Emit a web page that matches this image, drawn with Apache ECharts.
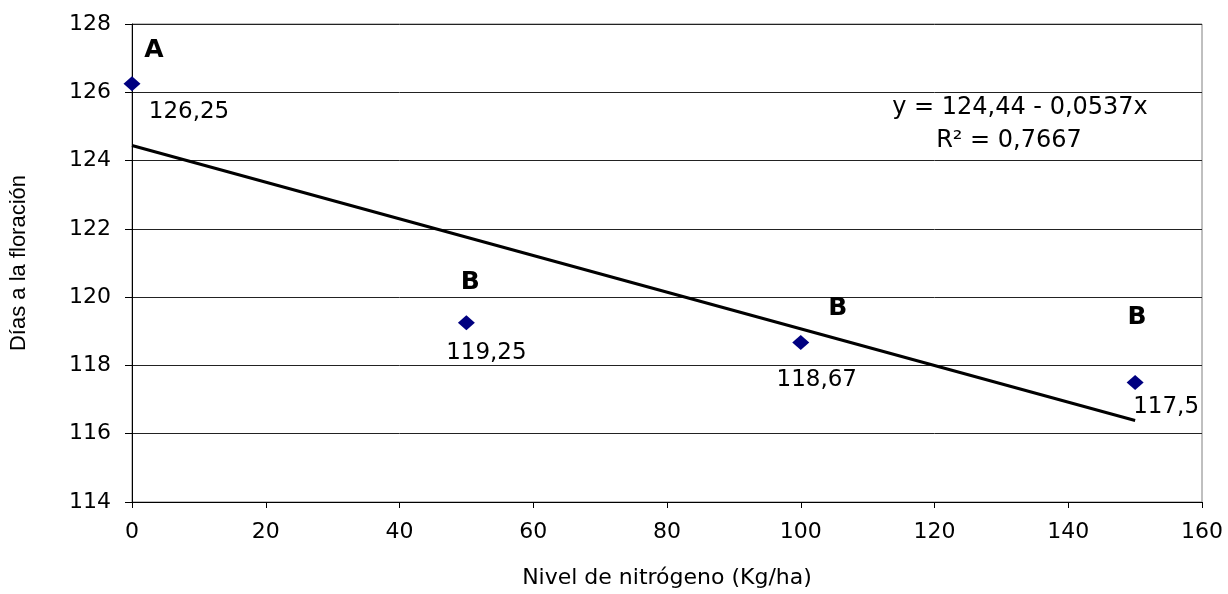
<!DOCTYPE html>
<html><head><meta charset="utf-8">
<script src="https://cdn.jsdelivr.net/npm/echarts@6/dist/echarts.min.js"></script>
<style>html,body{margin:0;padding:0;background:#fff;overflow:hidden}#c{width:1228px;height:594px}</style>
</head><body><div id="c"></div>
<script>
const nitrogen = [0, 50, 100, 150];
const days = [126.25, 119.25, 118.67, 117.5];
const valueLabels = ['126,25', '119,25', '118,67', '117,5'];
const letters = ['A', 'B', 'B', 'B'];
const intercept = 124.44;
const slope = -0.0537;
const equationText = 'y = 124,44 - 0,0537x';
const r2Text = 'R\u00b2 = 0,7667';
const yTicks = {min: 114, max: 128, interval: 2};
const xTicks = {min: 0, max: 160, interval: 20};

const valueOffsets = [[57, 28], [20, 30], [16, 37], [31, 25]];
const letterOffsets = [[22, -33], [4, -40], [37, -34], [2, -65]];
const fam = '"DejaVu Sans", sans-serif';
const fam2 = '"Liberation Sans", Arial, sans-serif';

const trend = [[nitrogen[0], intercept + slope * nitrogen[0]], [nitrogen[nitrogen.length - 1], intercept + slope * nitrogen[nitrogen.length - 1]]];

const chart = echarts.init(document.getElementById('c'), null, {renderer: 'canvas'});
chart.setOption({
  animation: false,
  grid: {left: 131, right: 26, top: 24, bottom: 86, show: true, borderColor: '#808080', borderWidth: 1, containLabel: false},
  xAxis: {
    type: 'value', min: xTicks.min, max: xTicks.max, interval: xTicks.interval,
    name: 'Nivel de nitrógeno (Kg/ha)', nameLocation: 'middle', nameGap: 65,
    nameTextStyle: {fontFamily: fam, fontSize: 22, color: '#000'},
    axisLine: {lineStyle: {color: '#000', width: 1}},
    axisTick: {show: true, length: 6, lineStyle: {color: '#000'}},
    axisLabel: {fontFamily: fam, fontSize: 22, color: '#000', margin: 19},
    splitLine: {show: false}
  },
  yAxis: {
    type: 'value', min: yTicks.min, max: yTicks.max, interval: yTicks.interval,
    name: 'Días a la floración', nameLocation: 'middle', nameGap: 102,
    nameTextStyle: {fontFamily: fam2, fontSize: 22, color: '#000'},
    axisLine: {show: true, lineStyle: {color: '#000', width: 1}},
    axisTick: {show: true, length: 7, lineStyle: {color: '#000'}},
    axisLabel: {fontFamily: fam, fontSize: 22, color: '#000', margin: 21},
    splitLine: {show: true, lineStyle: {color: '#222', width: 1}}
  },
  series: [
    {
      type: 'line', data: trend, symbol: 'none', silent: true,
      lineStyle: {color: '#000', width: 3}, z: 2
    },
    {
      type: 'scatter', symbol: 'diamond', symbolSize: [17, 15],
      itemStyle: {color: '#000080', opacity: 1}, z: 3,
      data: nitrogen.map((x, i) => ({
        value: [x, days[i]],
        label: {show: true, formatter: valueLabels[i], offset: valueOffsets[i], position: 'inside',
          fontFamily: fam, fontSize: 23, color: '#000', opacity: 1}
      }))
    },
    {
      type: 'scatter', symbol: 'circle', symbolSize: 1, silent: true, z: 4,
      itemStyle: {color: 'rgba(0,0,0,0)', opacity: 1},
      data: nitrogen.map((x, i) => ({
        value: [x, days[i]],
        label: {show: true, formatter: letters[i], offset: letterOffsets[i], position: 'inside',
          fontFamily: fam, fontSize: 25, fontWeight: 'bold', color: '#000', opacity: 1}
      }))
    }
  ],
  graphic: [
    {type: 'text', x: 1020, y: 108, style: {text: equationText, fontFamily: fam, fontSize: 24, fill: '#000', textAlign: 'center', textVerticalAlign: 'middle'}},
    {type: 'text', x: 1009, y: 141, style: {text: r2Text, fontFamily: fam, fontSize: 24, fill: '#000', textAlign: 'center', textVerticalAlign: 'middle'}}
  ]
});
</script></body></html>
